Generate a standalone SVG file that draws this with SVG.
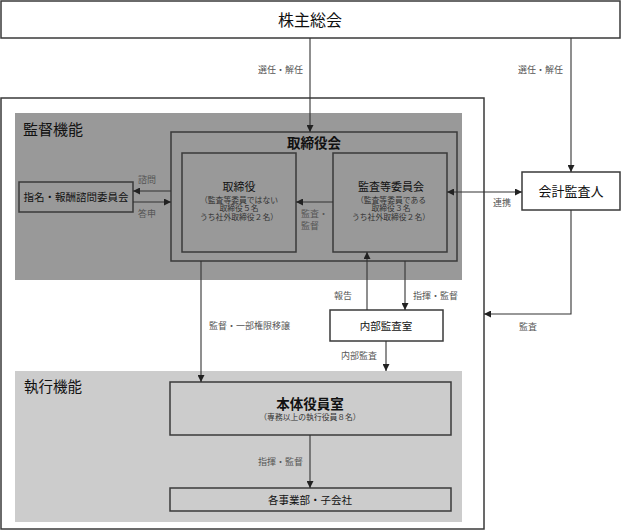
<svg xmlns="http://www.w3.org/2000/svg" width="621" height="530" viewBox="0 0 621 530">
<style>
.bx{stroke:#3a3a3a;stroke-width:1.5}
.ln{stroke:#333;stroke-width:1.1;fill:none}
.t{font-family:"Noto Sans CJK JP","Noto Sans",sans-serif;fill:#111}
.lb{font-family:"Liberation Serif","Noto Sans CJK JP",serif;font-size:9px;fill:#555}
.sb{font-family:"Liberation Serif","Noto Sans CJK JP",serif;font-size:7.8px;fill:#333}
</style>
<defs>
<marker id="ah" viewBox="0 0 10 10" refX="10" refY="5" markerWidth="7" markerHeight="7" markerUnits="userSpaceOnUse" orient="auto-start-reverse">
<path d="M0,0 L10,5 L0,10 z" fill="#222"/>
</marker>
</defs>
<rect width="621" height="530" fill="#fff"/>

<g id="outer">
<rect x="1" y="98" width="483" height="431" fill="#fff" class="bx"/>
</g>
<g id="kantoku-region">
<rect x="15" y="113" width="447" height="167" fill="#999"/>
<text x="23" y="135" class="t" font-size="15">監督機能</text>
</g>
<g id="shikko-region">
<rect x="15" y="371" width="447" height="151" fill="#ccc"/>
<text x="24" y="392" class="t" font-size="14.5">執行機能</text>
</g>

<g id="shareholders">
<rect x="1" y="1" width="619" height="37" fill="#fff" class="bx"/>
<text x="310" y="26" class="t" font-size="16" text-anchor="middle">株主総会</text>
</g>

<g id="board">
<rect x="171" y="132" width="286" height="129" fill="#999" class="bx"/>
<text x="314" y="148" class="t" font-size="13.5" font-weight="bold" text-anchor="middle">取締役会</text>
</g>

<g id="directors">
<rect x="182" y="153" width="114" height="99" fill="#999" class="bx"/>
<text x="239" y="191" class="t" font-size="11" text-anchor="middle" fill="#222">取締役</text>
<text x="239" y="202.5" class="sb" text-anchor="middle">（監査等委員ではない</text>
<text x="239" y="211" class="sb" text-anchor="middle">取締役５名</text>
<text x="239" y="219.5" class="sb" text-anchor="middle">うち社外取締役２名）</text>
</g>

<g id="audit-committee">
<rect x="333" y="153" width="114" height="99" fill="#999" class="bx"/>
<text x="391" y="191" class="t" font-size="11" text-anchor="middle" fill="#222">監査等委員会</text>
<text x="391" y="202.5" class="sb" text-anchor="middle">（監査等委員である</text>
<text x="391" y="211" class="sb" text-anchor="middle">取締役３名</text>
<text x="391" y="219.5" class="sb" text-anchor="middle">うち社外取締役２名）</text>
</g>

<g id="nomination">
<rect x="19" y="182" width="114" height="30" fill="#999" class="bx"/>
<text x="76" y="201" class="t" font-size="10.5" text-anchor="middle">指名・報酬諮問委員会</text>
</g>

<g id="auditor">
<rect x="522" y="172" width="98" height="38" fill="#fff" class="bx"/>
<text x="571" y="196" class="t" font-size="13" text-anchor="middle">会計監査人</text>
</g>

<g id="internal-audit">
<rect x="330" y="310" width="113" height="31" fill="#fff" class="bx"/>
<text x="386" y="330" class="t" font-size="10.5" text-anchor="middle">内部監査室</text>
</g>

<g id="executives">
<rect x="170" y="382" width="281" height="53" fill="#ccc" class="bx"/>
<text x="310" y="409" class="t" font-size="13.5" font-weight="bold" text-anchor="middle">本体役員室</text>
<text x="310" y="420" class="sb" font-size="8" text-anchor="middle">（専務以上の執行役員８名）</text>
</g>

<g id="divisions">
<rect x="170" y="488" width="281" height="23" fill="#ccc" class="bx"/>
<text x="310" y="504" class="t" font-size="10.5" text-anchor="middle">各事業部・子会社</text>
</g>

<g id="connectors">
<line x1="310" y1="38" x2="310" y2="132" class="ln" marker-end="url(#ah)"/>
<line x1="571" y1="38" x2="571" y2="172" class="ln" marker-end="url(#ah)"/>
<line x1="171" y1="191" x2="133" y2="191" class="ln" marker-end="url(#ah)"/>
<line x1="133" y1="202" x2="171" y2="202" class="ln" marker-end="url(#ah)"/>
<line x1="333" y1="202" x2="296" y2="202" class="ln" marker-end="url(#ah)"/>
<line x1="447" y1="192" x2="522" y2="192" class="ln" marker-start="url(#ah)" marker-end="url(#ah)"/>
<line x1="201" y1="261" x2="201" y2="382" class="ln" marker-end="url(#ah)"/>
<line x1="367" y1="310" x2="367" y2="252" class="ln" marker-end="url(#ah)"/>
<line x1="405" y1="261" x2="405" y2="310" class="ln" marker-end="url(#ah)"/>
<line x1="386" y1="341" x2="386" y2="371" class="ln" marker-end="url(#ah)"/>
<polyline points="571,210 571,314 484,314" class="ln" marker-end="url(#ah)"/>
<line x1="310" y1="435" x2="310" y2="488" class="ln" marker-end="url(#ah)"/>

<text x="303" y="73" class="lb" text-anchor="end">選任・解任</text>
<text x="563" y="73" class="lb" text-anchor="end">選任・解任</text>
<text x="147" y="183" class="lb" text-anchor="middle">諮問</text>
<text x="147" y="217" class="lb" text-anchor="middle">答申</text>
<text x="301" y="217" class="lb">監査・</text>
<text x="301" y="229" class="lb">監督</text>
<text x="502" y="206" class="lb" text-anchor="middle">連携</text>
<text x="209" y="329" class="lb">監督・一部権限移譲</text>
<text x="343" y="299" class="lb" text-anchor="middle">報告</text>
<text x="413" y="299" class="lb">指揮・監督</text>
<text x="341" y="359" class="lb">内部監査</text>
<text x="528" y="330" class="lb" text-anchor="middle">監査</text>
<text x="303" y="465" class="lb" text-anchor="end">指揮・監督</text>
</g>
</svg>
